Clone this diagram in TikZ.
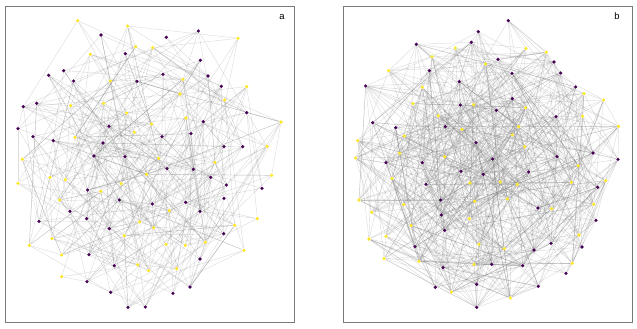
\documentclass[tikz,border=0pt]{standalone}
\usepackage{fontspec}
\setmainfont{Liberation Sans}
\usetikzlibrary{backgrounds}
\definecolor{vpurple}{HTML}{440154}
\definecolor{vyellow}{HTML}{FDE725}
\definecolor{framegray}{HTML}{7A7A7A}
\tikzset{
  dotP/.style={circle, fill=vpurple, inner sep=0pt, minimum size=3.6pt},
  dotY/.style={circle, fill=vyellow, inner sep=0pt, minimum size=3.6pt},
  edge/.style={draw=gray, opacity=0.27, line width=0.45pt},
  panel/.style={draw=framegray, line width=0.8pt},
  lab/.style={font=\fontsize{9.5}{9.5}\selectfont, inner sep=0pt}
}
% random edges between nodes that are not too far apart
\newcommand{\randedges}[4]{% prefix, count, trials, max length
  \foreach \i in {1,...,#2} {
    \foreach \k in {1,...,#3} {
      \pgfmathrandominteger{\j}{1}{#2}
      \pgfpointdiff{\pgfpointanchor{#1\i}{center}}{\pgfpointanchor{#1\j}{center}}
      \pgfgetlastxy{\dx}{\dy}
      \pgfmathsetmacro{\elen}{veclen(\dx,\dy)}
      \ifdim\elen pt<#4pt \ifdim\elen pt>2pt \draw[edge] (#1\i) -- (#1\j); \fi\fi
    }
  }
}
\begin{document}
\begin{tikzpicture}[x=1pt, y=-1pt]
    \useasboundingbox (0,0) rectangle (637,329);
    \pgfmathsetseed{11}
    % Panel frames and labels
    \draw[panel] (5,6) rectangle (294,322);
    \draw[panel] (343,6) rectangle (632,322);
    \node[lab] (la) at (282,17) {a};
    \node[lab] (lb) at (617,16) {b};
    % Panel a nodes
    \begin{scope}[scale=1/3]
    \foreach \x/\y/\c [count=\i] in {233/62/Y, 383/78/Y, 303/105/P, 499/112/P, 595/93/P, 714/115/Y, 407/140/Y, 458/143/Y, 271/163/Y, 376/161/P,
        601/181/P, 146/226/P, 191/212/P, 221/243/P, 331/243/Y, 411/244/P, 489/223/P, 549/238/Y, 624/228/P, 664/259/P,
        740/260/Y, 540/282/Y, 674/300/Y, 70/320/P, 110/310/P, 212/317/Y, 311/310/Y, 380/339/Y, 558/354/Y, 610/365/P,
        740/338/P, 843/366/Y, 54/386/P, 99/410/P, 160/422/P, 225/412/Y, 327/379/P, 403/397/Y, 455/372/Y, 486/410/P,
        573/401/P, 672/440/P, 728/440/P, 801/439/Y, 67/478/Y, 282/468/P, 309/429/P, 375/470/P, 476/475/Y, 501/506/P,
        580/508/P, 645/487/Y, 54/550/Y, 150/532/Y, 196/539/Y, 263/570/P, 302/574/Y, 364/551/Y, 440/523/Y, 632/532/P,
        679/555/P, 815/526/Y, 786/565/P, 179/600/Y, 358/600/P, 457/612/P, 557/607/P, 672/595/P, 210/634/P, 260/656/P,
        508/632/Y, 600/634/P, 772/656/Y, 117/664/P, 419/666/Y, 461/683/Y, 328/686/P, 704/676/Y, 156/716/Y, 373/707/Y,
        498/733/Y, 556/736/Y, 616/727/Y, 671/701/P, 88/736/Y, 185/765/Y, 267/764/P, 600/777/P, 732/751/Y, 343/797/P,
        413/794/Y, 446/812/Y, 530/806/Y, 185/830/Y, 261/845/P, 570/861/P, 332/877/P, 519/880/P, 384/922/P, 436/921/P}
        \node[dot\c] (a\i) at (\x,\y) {};
    \end{scope}
    % Panel b nodes
    \begin{scope}[shift={(337,0)}, scale=1/3]
    \foreach \x/\y/\c [count=\i] in {514/62/P, 424/95/P, 238/133/P, 403/127/P, 355/144/Y, 567/145/Y, 285/170/Y, 483/178/P, 628/157/Y, 651/186/P,
        446/192/Y, 155/212/Y, 277/212/P, 525/220/P, 671/219/P, 367/245/P, 86/258/P, 256/262/Y, 716/261/P, 741/281/Y,
        526/296/P, 800/300/Y, 228/311/Y, 370/315/P, 410/314/Y, 566/323/Y, 478/331/P, 737/349/Y, 304/347/Y, 657/350/P,
        107/368/P, 176/383/P, 325/380/P, 375/388/Y, 545/380/Y, 845/379/Y, 202/408/Y, 526/405/Y, 62/422/Y, 417/428/P,
        563/440/Y, 188/460/Y, 467/477/P, 323/470/Y, 660/470/P, 768/459/P, 843/478/P, 56/474/Y, 147/488/P, 256/488/P,
        724/497/Y, 372/514/P, 439/523/P, 575/516/P, 165/535/Y, 399/549/Y, 490/546/Y, 541/553/Y, 703/547/Y, 806/542/Y,
        267/553/P, 782/562/P, 66/600/Y, 311/600/P, 413/604/Y, 511/597/Y, 770/613/Y, 200/614/Y, 603/624/P, 644/626/Y,
        104/637/Y, 313/645/P, 397/656/Y, 777/661/P, 222/677/Y, 323/691/P, 96/717/Y, 147/709/Y, 726/705/Y, 426/733/Y,
        642/730/P, 234/740/P, 502/746/Y, 591/750/P, 735/741/P, 141/776/Y, 246/784/Y, 318/803/P, 411/793/Y, 464/793/P,
        557/797/P, 706/790/Y, 687/820/P, 419/853/P, 295/862/P, 604/859/P, 343/876/Y, 520/894/Y, 419/922/P}
        \node[dot\c] (b\i) at (\x,\y) {};
    \end{scope}
    % Edges behind the nodes
    \begin{pgfonlayer}{background}
    \randedges{a}{100}{7}{165}
    \randedges{b}{99}{12}{175}
    \end{pgfonlayer}
\end{tikzpicture}
\end{document}
